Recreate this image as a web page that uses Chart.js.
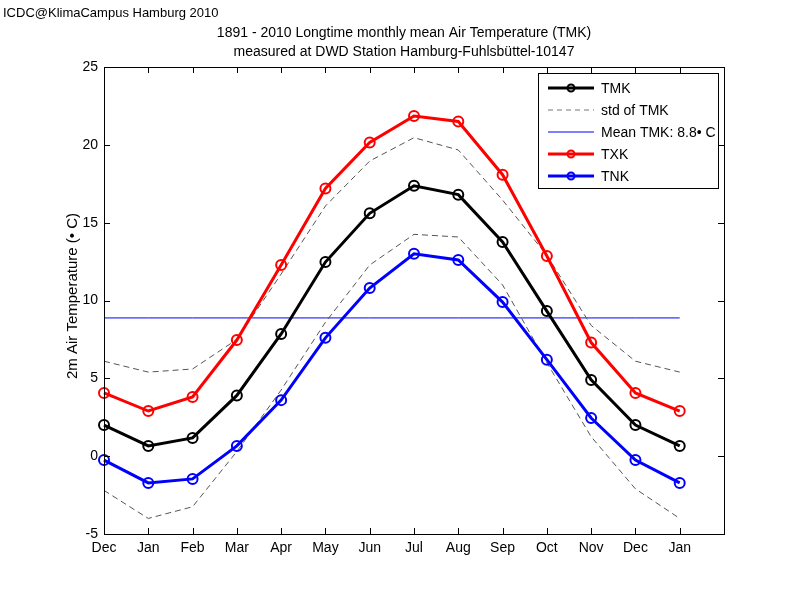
<!DOCTYPE html>
<html><head><meta charset="utf-8">
<script src="https://cdn.jsdelivr.net/npm/chart.js@4"></script>
<style>html,body{margin:0;padding:0;background:#fff}#wrap{width:800px;height:600px;position:relative}</style>
</head><body><div id="wrap"><canvas id="c" width="800" height="600"></canvas></div>
<script>
const months = ["Dec","Jan","Feb","Mar","Apr","May","Jun","Jul","Aug","Sep","Oct","Nov","Dec","Jan"];
const tmk = [2.0,0.66,1.17,3.9,7.85,12.47,15.6,17.37,16.8,13.76,9.32,4.9,2.0,0.66];
const txk = [4.06,2.9,3.8,7.46,12.28,17.2,20.15,21.85,21.5,18.08,12.86,7.3,4.06,2.9];
const tnk = [-0.25,-1.72,-1.46,0.66,3.6,7.6,10.8,13.0,12.6,9.9,6.2,2.45,-0.25,-1.72];
const stdUpper = [6.1,5.4,5.6,7.5,11.7,16.07,18.96,20.46,19.67,16.45,12.9,8.4,6.1,5.4];
const stdLower = [-2.2,-4.0,-3.25,0.3,4.25,8.6,12.28,14.25,14.08,11.0,6.0,1.25,-2.1,-4.0];
const meanTMK = 8.88;
const yTicks = [-5,0,5,10,15,20,25];
const legendLabels = ["TMK","std of TMK","Mean TMK: 8.8\u2022 C","TXK","TNK"];
const titleLines = ["1891 - 2010 Longtime monthly mean Air Temperature (TMK)","measured at DWD Station Hamburg-Fuhlsbüttel-10147"];
const creditText = "ICDC@KlimaCampus Hamburg 2010";
const yLabel = "2m Air Temperature (\u2022 C)";

const FONT = '"Liberation Sans", Arial, sans-serif';
const meanLine = months.map(()=>meanTMK);
// axis runs one step past the last month (empty slot)
const axisLabels = months.concat([""]);

const framePlugin = {
  id:'frame',
  afterDraw(chart){
    const {ctx, chartArea:a, scales:{x,y}} = chart;
    ctx.save();
    ctx.strokeStyle='#000'; ctx.lineWidth=1;
    ctx.strokeRect(Math.round(a.left)+0.5, Math.round(a.top)+0.5, Math.round(a.right-a.left), Math.round(a.bottom-a.top));
    ctx.beginPath();
    months.forEach((m,i)=>{
      const px=Math.round(x.getPixelForValue(i))+0.5;
      ctx.moveTo(px,a.bottom); ctx.lineTo(px,a.bottom-6);
      ctx.moveTo(px,a.top); ctx.lineTo(px,a.top+6);
    });
    yTicks.forEach(v=>{
      const py=Math.round(y.getPixelForValue(v))+0.5;
      ctx.moveTo(a.left,py); ctx.lineTo(a.left+6,py);
      ctx.moveTo(a.right,py); ctx.lineTo(a.right-6,py);
    });
    ctx.stroke();
    ctx.fillStyle='#000';
    ctx.font='14px '+FONT;
    ctx.textAlign='right'; ctx.textBaseline='middle';
    yTicks.forEach(v=>ctx.fillText(String(v), a.left-6, y.getPixelForValue(v)));
    ctx.textAlign='center'; ctx.textBaseline='top';
    months.forEach((m,i)=>ctx.fillText(m, x.getPixelForValue(i), a.bottom+7));
    // titles
    ctx.textBaseline='alphabetic';
    ctx.fillText(titleLines[0], 404, 37);
    ctx.fillText(titleLines[1], 404, 56);
    ctx.textAlign='left';
    ctx.font='13px '+FONT;
    ctx.fillText(creditText, 3, 17);
    // y label
    ctx.font='15px '+FONT;
    ctx.save();
    ctx.translate(77, 296);
    ctx.rotate(-Math.PI/2);
    ctx.textAlign='center'; ctx.textBaseline='alphabetic';
    ctx.fillText(yLabel,0,0);
    ctx.restore();
    // legend
    const lx=538.5, ly=73.5, lw=180, lh=115;
    ctx.fillStyle='#fff'; ctx.fillRect(lx,ly,lw,lh);
    ctx.strokeStyle='#000'; ctx.lineWidth=1; ctx.strokeRect(lx,ly,lw,lh);
    const items=[
      {c:'#000',w:3,dash:[],m:true},
      {c:'#777',w:1,dash:[5,4],m:false},
      {c:'#0000ff',w:1,dash:[],m:false},
      {c:'#ff0000',w:3,dash:[],m:true},
      {c:'#0000ff',w:3,dash:[],m:true}
    ];
    items.forEach((it,i)=>{
      const yy=88+i*22;
      ctx.strokeStyle=it.c; ctx.lineWidth=it.w; ctx.setLineDash(it.dash);
      ctx.beginPath(); ctx.moveTo(548,yy); ctx.lineTo(594,yy); ctx.stroke();
      ctx.setLineDash([]);
      if(it.m){ctx.lineWidth=2; ctx.beginPath(); ctx.arc(571,yy,3.5,0,Math.PI*2); ctx.stroke();}
      ctx.fillStyle='#000'; ctx.font='14px '+FONT; ctx.textAlign='left'; ctx.textBaseline='middle';
      ctx.fillText(legendLabels[i], 601, yy+1);
    });
    ctx.restore();
  }
};

new Chart(document.getElementById('c'),{
  type:'line',
  data:{labels:axisLabels, datasets:[
    {label:legendLabels[2],data:meanLine,borderColor:'#0000ff',borderWidth:1,pointRadius:0,order:5},
    {label:legendLabels[1],data:stdUpper,borderColor:'#555',borderWidth:1,borderDash:[6,4],pointRadius:0,order:4},
    {label:'std lower',data:stdLower,borderColor:'#555',borderWidth:1,borderDash:[6,4],pointRadius:0,order:4},
    {label:legendLabels[4],data:tnk,borderColor:'#0000ff',borderWidth:3,pointRadius:5,pointBorderWidth:2,pointBackgroundColor:'rgba(0,0,0,0)',pointBorderColor:'#0000ff',order:3},
    {label:legendLabels[3],data:txk,borderColor:'#ff0000',borderWidth:3,pointRadius:5,pointBorderWidth:2,pointBackgroundColor:'rgba(0,0,0,0)',pointBorderColor:'#ff0000',order:2},
    {label:legendLabels[0],data:tmk,borderColor:'#000',borderWidth:3,pointRadius:5,pointBorderWidth:2,pointBackgroundColor:'rgba(0,0,0,0)',pointBorderColor:'#000',order:1}
  ]},
  options:{
    responsive:false, animation:false,
    layout:{padding:{left:0,right:76,top:67,bottom:0}},
    plugins:{legend:{display:false},tooltip:{enabled:false},title:{display:false}},
    elements:{line:{tension:0}},
    scales:{
      x:{type:'category',offset:false,grid:{display:false},border:{display:false},ticks:{display:false},
         afterFit(s){s.height=66;}},
      y:{min:-5,max:25,grid:{display:false},border:{display:false},ticks:{display:false,stepSize:5},
         afterFit(s){s.width=104;}}
    }
  },
  plugins:[framePlugin]
});
</script></body></html>
